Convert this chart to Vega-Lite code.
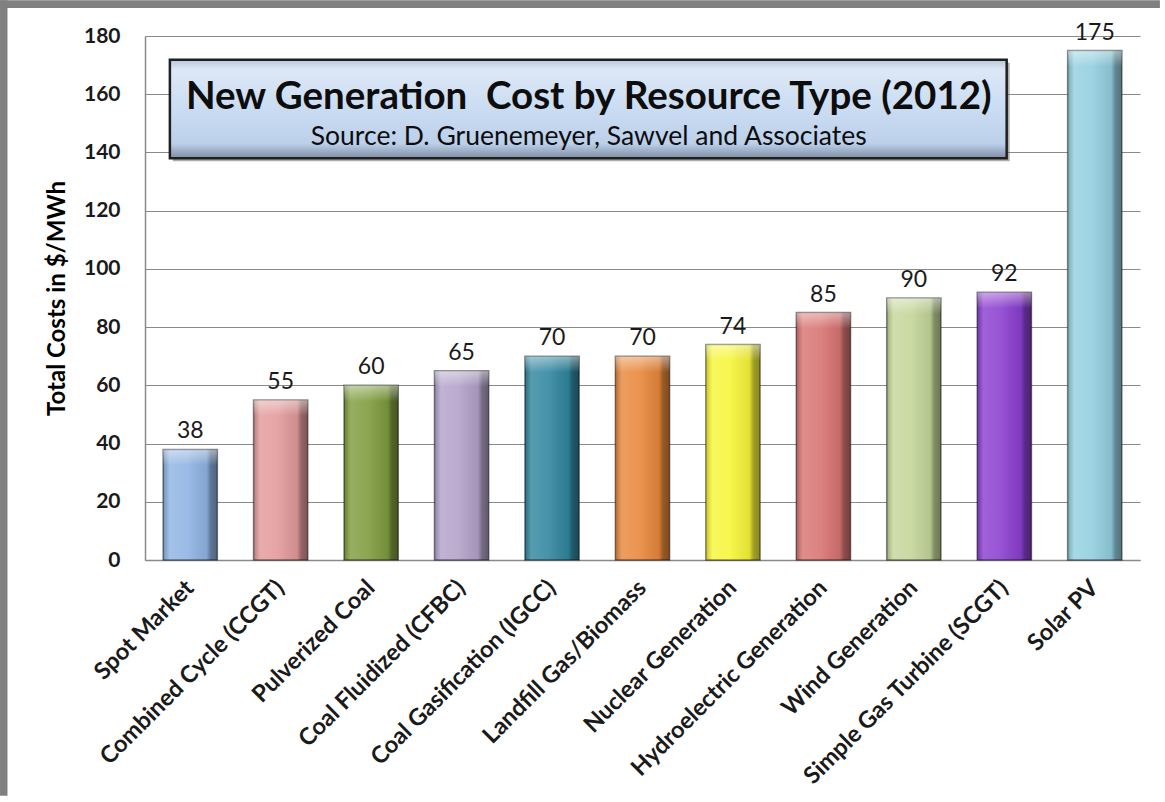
{
  "$schema": "https://vega.github.io/schema/vega-lite/v6.json",
  "width": 995,
  "height": 524,
  "autosize": {"type": "none"},
  "padding": {"left": 145, "top": 36, "right": 20, "bottom": 236},
  "background": "#ffffff",
  "config": {
    "view": {"stroke": null},
    "font": "Lato",
    "axis": {"labelFont": "Lato", "titleFont": "Lato"},
    "axisY": {
      "titleFontSize": 24, "titleFontWeight": "bold", "titleColor": "#000000", "titlePadding": 14,
      "labelFontSize": 21, "labelFontWeight": "bold", "labelColor": "#1a1a1a", "labelPadding": 25, "ticks": false,
      "gridColor": "#8a8a8a", "gridWidth": 1.2, "domainColor": "#8a8a8a", "domainWidth": 1.5
    },
    "axisX": {
      "labelFontSize": 23.5, "labelFontWeight": "bold", "labelColor": "#1a1a1a", "ticks": false,
      "domainColor": "#8a8a8a", "domainWidth": 1.5
    }
  },
  "data": {
    "values": [
      {"type": "Spot Market", "cost": 38},
      {"type": "Combined Cycle (CCGT)", "cost": 55},
      {"type": "Pulverized Coal", "cost": 60},
      {"type": "Coal Fluidized (CFBC)", "cost": 65},
      {"type": "Coal Gasification (IGCC)", "cost": 70},
      {"type": "Landfill Gas/Biomass", "cost": 70},
      {"type": "Nuclear Generation", "cost": 74},
      {"type": "Hydroelectric Generation", "cost": 85},
      {"type": "Wind Generation", "cost": 90},
      {"type": "Simple Gas Turbine (SCGT)", "cost": 92},
      {"type": "Solar PV", "cost": 175}
    ]
  },
  "resolve": {"scale": {"x": "independent"}},
  "layer": [
    {
      "mark": {"type": "bar"},
      "encoding": {
        "x": {
          "field": "type", "type": "nominal", "sort": null,
          "scale": {"paddingInner": 0.4, "paddingOuter": 0.2},
          "axis": {
            "title": null, "labelAngle": -45, "labelAlign": "right", "labelBaseline": "middle",
            "labelPadding": 24, "labelLimit": 400
          }
        },
        "y": {
          "field": "cost", "type": "quantitative",
          "scale": {"domain": [0, 180], "nice": false},
          "axis": {
            "title": "Total Costs in $/MWh",
            "values": [0, 20, 40, 60, 80, 100, 120, 140, 160, 180],
            "grid": true
          }
        },
        "color": {
          "field": "type", "type": "nominal", "legend": null,
          "scale": {
            "domain": ["Spot Market", "Combined Cycle (CCGT)", "Pulverized Coal", "Coal Fluidized (CFBC)", "Coal Gasification (IGCC)", "Landfill Gas/Biomass", "Nuclear Generation", "Hydroelectric Generation", "Wind Generation", "Simple Gas Turbine (SCGT)", "Solar PV"],
            "range": ["#8fb4e3", "#e39a9b", "#7f9c3f", "#b3a2c9", "#31869e", "#e8883c", "#f7f53a", "#d87472", "#c4d69a", "#8b3fcf", "#93cfdf"]
          }
        }
      }
    },
    {
      "mark": {
        "type": "bar",
        "stroke": "#000000", "strokeOpacity": 0.45, "strokeWidth": 1.5,
        "color": {
          "gradient": "linear", "x1": 0, "x2": 1, "y1": 0, "y2": 0,
          "stops": [
            {"offset": 0, "color": "rgba(0,0,0,0.2)"},
            {"offset": 0.12, "color": "rgba(255,255,255,0.18)"},
            {"offset": 0.45, "color": "rgba(255,255,255,0.10)"},
            {"offset": 0.8, "color": "rgba(0,0,0,0.08)"},
            {"offset": 0.88, "color": "rgba(0,0,0,0.35)"},
            {"offset": 1, "color": "rgba(0,0,0,0.45)"}
          ]
        }
      },
      "encoding": {
        "x": {"field": "type", "type": "nominal", "sort": null, "scale": {"paddingInner": 0.4, "paddingOuter": 0.2}, "axis": null},
        "y": {"field": "cost", "type": "quantitative", "scale": {"domain": [0, 180], "nice": false}}
      }
    },
    {
      "mark": {
        "type": "bar", "y2Offset": 16,
        "color": {
          "gradient": "linear", "x1": 0, "x2": 0, "y1": 0, "y2": 1,
          "stops": [
            {"offset": 0, "color": "rgba(255,255,255,0.45)"},
            {"offset": 1, "color": "rgba(255,255,255,0.0)"}
          ]
        }
      },
      "encoding": {
        "x": {"field": "type", "type": "nominal", "sort": null, "scale": {"paddingInner": 0.4, "paddingOuter": 0.2}, "axis": null},
        "y": {"field": "cost", "type": "quantitative", "scale": {"domain": [0, 180], "nice": false}},
        "y2": {"field": "cost"}
      }
    },
    {
      "mark": {"type": "text", "dy": -18, "fontSize": 23, "color": "#1a1a1a", "font": "Lato"},
      "encoding": {
        "x": {"field": "type", "type": "nominal", "sort": null, "scale": {"paddingInner": 0.4, "paddingOuter": 0.2}, "axis": null},
        "y": {"field": "cost", "type": "quantitative", "scale": {"domain": [0, 180], "nice": false}},
        "text": {"field": "cost", "type": "quantitative"}
      }
    },
    {
      "data": {"values": [{}]},
      "mark": {"type": "rect", "color": "#5a5a5a", "opacity": 0.5},
      "encoding": {
        "x": {"datum": 0.028, "type": "quantitative", "scale": {"domain": [0, 1], "nice": false, "zero": false}, "axis": null},
        "x2": {"datum": 0.869},
        "y": {"datum": 137, "type": "quantitative", "scale": {"domain": [0, 180], "nice": false}},
        "y2": {"datum": 170.8}
      }
    },
    {
      "data": {"values": [{}]},
      "mark": {
        "type": "rect", "stroke": "#1f1f1f", "strokeWidth": 2.5,
        "color": {
          "gradient": "linear", "x1": 0, "x2": 0, "y1": 0, "y2": 1,
          "stops": [
            {"offset": 0, "color": "#b8c8dc"},
            {"offset": 0.1, "color": "#dde8f6"},
            {"offset": 0.5, "color": "#cadcf2"},
            {"offset": 0.85, "color": "#bcd0ea"},
            {"offset": 1, "color": "#7f8ea3"}
          ]
        }
      },
      "encoding": {
        "x": {"datum": 0.025, "type": "quantitative", "scale": {"domain": [0, 1], "nice": false, "zero": false}, "axis": null},
        "x2": {"datum": 0.866},
        "y": {"datum": 138, "type": "quantitative", "scale": {"domain": [0, 180], "nice": false}},
        "y2": {"datum": 171.8}
      }
    },
    {
      "data": {"values": [{"t": "New Generation\u00a0 Cost by Resource Type (2012)"}]},
      "mark": {"type": "text", "fontSize": 38.5, "fontWeight": "bold", "color": "#0d0d0d", "font": "Lato", "baseline": "middle"},
      "encoding": {
        "x": {"datum": 0.446, "type": "quantitative", "scale": {"domain": [0, 1], "nice": false, "zero": false}, "axis": null},
        "y": {"datum": 159, "type": "quantitative", "scale": {"domain": [0, 180], "nice": false}},
        "text": {"field": "t"}
      }
    },
    {
      "data": {"values": [{"t": "Source: D. Gruenemeyer, Sawvel and Associates"}]},
      "mark": {"type": "text", "fontSize": 26.5, "color": "#0d0d0d", "font": "Lato", "baseline": "middle"},
      "encoding": {
        "x": {"datum": 0.446, "type": "quantitative", "scale": {"domain": [0, 1], "nice": false, "zero": false}, "axis": null},
        "y": {"datum": 145.3, "type": "quantitative", "scale": {"domain": [0, 180], "nice": false}},
        "text": {"field": "t"}
      }
    },
    {
      "data": {"values": [{}]},
      "mark": {"type": "rect", "color": "#808080"},
      "encoding": {
        "x": {"datum": -0.1457, "type": "quantitative", "scale": {"domain": [0, 1], "nice": false, "zero": false}, "axis": null},
        "x2": {"datum": 1.02},
        "y": {"datum": 192.3, "type": "quantitative", "scale": {"domain": [0, 180], "nice": false}},
        "y2": {"datum": 189.62}
      }
    },
    {
      "data": {"values": [{}]},
      "mark": {"type": "rect", "color": "#808080"},
      "encoding": {
        "x": {"datum": -0.1457, "type": "quantitative", "scale": {"domain": [0, 1], "nice": false, "zero": false}, "axis": null},
        "x2": {"datum": -0.1382},
        "y": {"datum": 192.3, "type": "quantitative", "scale": {"domain": [0, 180], "nice": false}},
        "y2": {"datum": -81.0}
      }
    }
  ]
}
